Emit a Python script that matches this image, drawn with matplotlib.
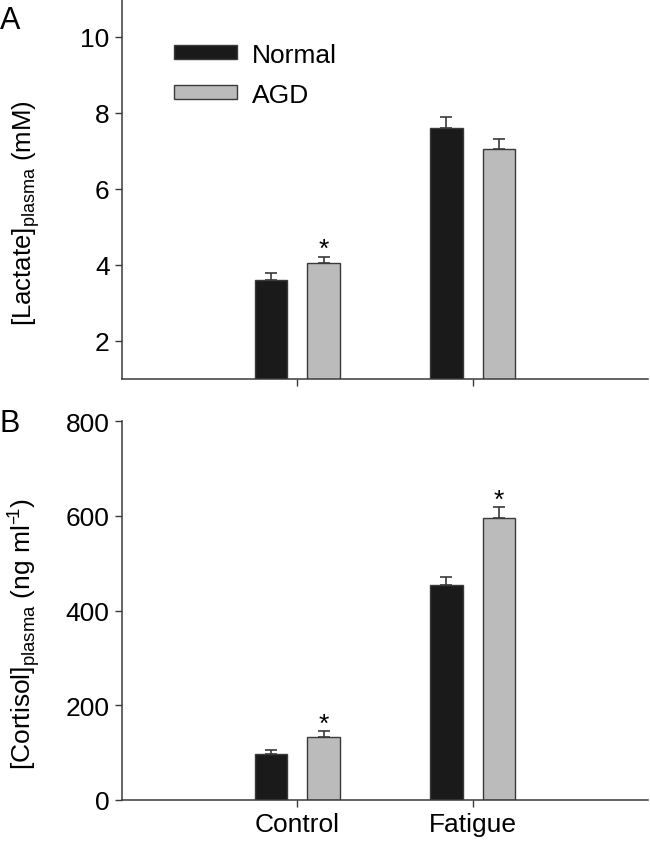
import matplotlib
matplotlib.use("Agg")
import matplotlib.pyplot as plt
import numpy as np

plt.rcParams['font.family'] = ['Liberation Sans', 'DejaVu Sans']

categories = ["Control", "Fatigue"]
series = ["Normal", "AGD"]
lactate = {"Normal": [3.61, 7.60], "AGD": [4.04, 7.06]}
lactate_err = {"Normal": [0.17, 0.29], "AGD": [0.17, 0.26]}
lactate_sig = {"Normal": [False, False], "AGD": [True, False]}
cortisol = {"Normal": [97, 454], "AGD": [134, 596]}
cortisol_err = {"Normal": [8, 16], "AGD": [11, 22]}
cortisol_sig = {"Normal": [False, False], "AGD": [True, True]}
lactate_ticks = [2, 4, 6, 8, 10]
cortisol_ticks = [0, 200, 400, 600, 800]

colors = {"Normal": "#1a1a1a", "AGD": "#bbbbbb"}
edge = "#3a3a3a"
fs = 19

fig = plt.figure(figsize=(6.5, 8.45), dpi=100)
ax1 = fig.add_axes([0.1877, 0.5503, 0.8093, 0.4497])
ax2 = fig.add_axes([0.1877, 0.0521, 0.8093, 0.4482])

x = np.arange(1, len(categories) + 1)
offsets = {"Normal": -0.15, "AGD": 0.15}
width = 0.185

def draw(ax, vals, errs, sigs):
    for s in series:
        xs = x + offsets[s]
        ax.bar(xs, vals[s], width, color=colors[s], edgecolor=edge, linewidth=1.0,
               label=s, zorder=2, bottom=0)
        ax.errorbar(xs, vals[s], yerr=[np.zeros(len(xs)), errs[s]], fmt='none',
                    ecolor=edge, elinewidth=1.2, capsize=4.3, capthick=1.2, zorder=3)
        for xi, v, e, sg in zip(xs, vals[s], errs[s], sigs[s]):
            if sg:
                ax.annotate("*", (xi, v + e), xytext=(0, -3), textcoords='offset points',
                            ha='center', va='bottom', fontsize=19)
    ax.set_xlim(0, 3)
    ax.set_xticks(x)
    for sp in ['top', 'right']:
        ax.spines[sp].set_visible(False)
    for sp in ['left', 'bottom']:
        ax.spines[sp].set_color(edge)
        ax.spines[sp].set_linewidth(1.1)
    ax.tick_params(direction='out', length=5, width=1.0, color=edge, labelsize=fs, pad=4)

draw(ax1, lactate, lactate_err, lactate_sig)
draw(ax2, cortisol, cortisol_err, cortisol_sig)

ax1.set_ylim(1, 11)
ax1.set_yticks(lactate_ticks)
ax1.set_xticklabels([])
ax2.set_ylim(0, 800)
ax2.set_yticks(cortisol_ticks)
ax2.set_xticklabels(categories)

ax1.set_ylabel(r"[Lactate]$_{\mathregular{plasma}}$ (mM)", fontsize=18.5)
ax2.set_ylabel("[Cortisol]$_{\\mathregular{plasma}}$ (ng ml$^{\\mathregular{\u2013\\!1}}$)", fontsize=19)
ax1.yaxis.set_label_coords(-0.152, 0.44)
ax2.yaxis.set_label_coords(-0.152, 0.44)

leg = ax1.legend(loc='upper left', bbox_to_anchor=(0.099, 0.885), frameon=False,
                 fontsize=fs, handlelength=2.4, handleheight=0.45, labelspacing=0.6,
                 handletextpad=0.55, borderpad=0, borderaxespad=0)

fig.text(0.0, 0.975, "A", fontsize=22, ha='left', va='center')
fig.text(0.0, 0.498, "B", fontsize=22, ha='left', va='center')

fig.savefig("out.png", dpi=100)
